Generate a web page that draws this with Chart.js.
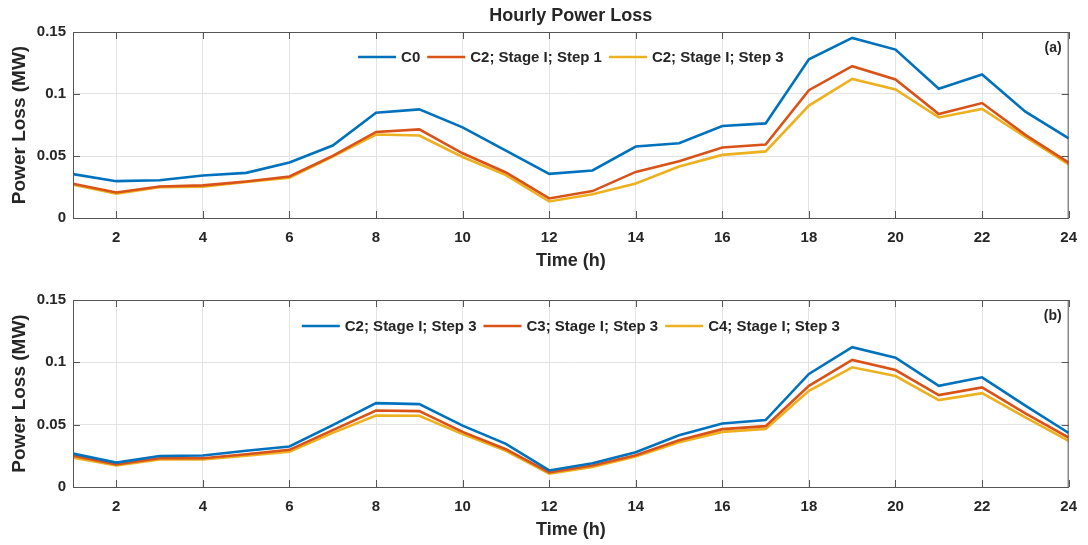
<!DOCTYPE html>
<html>
<head>
<meta charset="utf-8">
<script src="https://cdn.jsdelivr.net/npm/chart.js@4.4.1/dist/chart.umd.min.js"></script>
<style>
    html, body { margin: 0; padding: 0; background: #fff; }
    .wrap { position: relative; width: 1088px; }
    #topChart { display: block; width: 1088px; height: 272px; }
    #bottomChart { display: block; width: 1088px; height: 273px; }
</style>
</head>
<body>
<div class="wrap">
    <canvas id="topChart" width="1088" height="272"></canvas>
    <canvas id="bottomChart" width="1088" height="273"></canvas>
</div>
<script>
const hours = [1, 2, 3, 4, 5, 6, 7, 8, 9, 10, 11, 12, 13, 14, 15, 16, 17, 18, 19, 20, 21, 22, 23, 24];
const xTickValues = [2, 4, 6, 8, 10, 12, 14, 16, 18, 20, 22, 24];
const yTickValues = [0, 0.05, 0.1, 0.15];

// panel (a)
const c0 = [0.0354, 0.0297, 0.0305, 0.0343, 0.0364, 0.0447, 0.0584, 0.0849, 0.0876, 0.0731, 0.0544, 0.0356,
    0.0383, 0.0576, 0.0603, 0.0742, 0.0763, 0.1280, 0.1452, 0.1358, 0.1042, 0.1157, 0.0857, 0.0643];
const c2Step1 = [0.0276, 0.0206, 0.0254, 0.0263, 0.0295, 0.0335, 0.0501, 0.0694, 0.0715, 0.0522, 0.0367, 0.0158,
    0.0217, 0.0372, 0.0458, 0.0568, 0.0592, 0.1031, 0.1224, 0.1117, 0.0838, 0.0927, 0.0670, 0.0447];
const c2Step3 = [0.0268, 0.0196, 0.0249, 0.0253, 0.0291, 0.0325, 0.0496, 0.0673, 0.0665, 0.0492, 0.0346, 0.0133,
    0.0191, 0.0279, 0.0415, 0.0509, 0.0537, 0.0907, 0.1122, 0.1037, 0.0811, 0.0880, 0.0653, 0.0433];

// panel (b)
const c3Step3 = [0.0252, 0.0182, 0.0231, 0.0231, 0.0263, 0.0298, 0.0456, 0.0614, 0.0609, 0.0442, 0.0303, 0.0118,
    0.0172, 0.0255, 0.0375, 0.0464, 0.0488, 0.0812, 0.1019, 0.0938, 0.0737, 0.0799, 0.0590, 0.0397];
const c4Step3 = [0.0236, 0.0172, 0.0220, 0.0220, 0.0252, 0.0282, 0.0434, 0.0574, 0.0571, 0.0424, 0.0290, 0.0107,
    0.0161, 0.0244, 0.0359, 0.0442, 0.0466, 0.0772, 0.0960, 0.0890, 0.0697, 0.0753, 0.0558, 0.0370];

const BLUE = '#0072BD';
const ORANGE = '#D95319';
const YELLOW = '#EDB120';
const FONT = "'Liberation Sans', Arial, sans-serif";
const TEXT = '#262626';

function series(label, values, color) {
    return {
        label,
        data: hours.map((h, i) => ({ x: h, y: values[i] })),
        borderColor: color,
        backgroundColor: color,
        borderWidth: 2.6,
        pointRadius: 0,
        tension: 0
    };
}

// matlab-ish axes box: frame, inner ticks, title, horizontal legend inside, panel tag
const framePlugin = {
    id: 'frame',
    afterDatasetsDraw(chart, args, opts) {
        const { ctx, chartArea: a, scales } = chart;
        const midX = (a.left + a.right) / 2;
        ctx.save();

        ctx.strokeStyle = '#555';
        ctx.lineWidth = 1;
        ctx.strokeRect(a.left + 0.5, a.top + 0.5, a.right - a.left - 1, a.bottom - a.top);
        const t = 7;
        ctx.beginPath();
        xTickValues.forEach(v => {
            const x = Math.round(scales.x.getPixelForValue(v)) + 0.5;
            ctx.moveTo(x, a.bottom); ctx.lineTo(x, a.bottom - t);
            ctx.moveTo(x, a.top); ctx.lineTo(x, a.top + t);
        });
        yTickValues.forEach(v => {
            const y = Math.round(scales.y.getPixelForValue(v)) + 0.5;
            ctx.moveTo(a.left, y); ctx.lineTo(a.left + t, y);
            ctx.moveTo(a.right, y); ctx.lineTo(a.right - t, y);
        });
        ctx.stroke();

        ctx.fillStyle = TEXT;
        ctx.textBaseline = 'middle';

        if (opts.title) {
            ctx.font = `bold 18px ${FONT}`;
            ctx.textAlign = 'center';
            ctx.fillText(opts.title, midX, a.top - 16);
        }

        // legend, one row, centred on the plot
        const lineLen = 38, gapText = 5, gapItem = 7;
        ctx.font = `bold 15px ${FONT}`;
        const items = chart.data.datasets.map(ds => ({
            label: ds.label,
            color: ds.borderColor,
            w: ctx.measureText(ds.label).width
        }));
        const total = items.reduce((s, it) => s + lineLen + gapText + it.w, 0) + gapItem * (items.length - 1);
        let x = midX - total / 2;
        const ly = a.top + opts.legendOffset;
        ctx.textAlign = 'left';
        items.forEach(it => {
            ctx.strokeStyle = it.color;
            ctx.lineWidth = 2.6;
            ctx.beginPath();
            ctx.moveTo(x, ly);
            ctx.lineTo(x + lineLen, ly);
            ctx.stroke();
            x += lineLen + gapText;
            ctx.fillText(it.label, x, ly + 1);
            x += it.w + gapItem;
        });

        ctx.font = `bold 14px ${FONT}`;
        ctx.textAlign = 'right';
        ctx.fillText(opts.tag, a.right - 7, a.top + 16);
        ctx.restore();
    }
};

function makeOptions(frame, topPad, xHeight, xTitlePad) {
    return {
        responsive: false,
        animation: false,
        layout: { padding: { left: 0, right: 16, top: topPad, bottom: 0 } },
        plugins: {
            legend: { display: false },
            tooltip: { enabled: false },
            frame
        },
        scales: {
            x: {
                type: 'linear',
                min: 1,
                max: 24,
                afterBuildTicks: scale => { scale.ticks = xTickValues.map(v => ({ value: v })); },
                afterFit: scale => { scale.height = xHeight; },
                grid: { color: '#e3e3e3', drawTicks: false },
                border: { display: false },
                ticks: {
                    color: TEXT,
                    padding: 11,
                    font: { family: FONT, size: 15, weight: 'bold' },
                    maxRotation: 0,
                    callback: v => String(v)
                },
                title: {
                    display: true,
                    text: 'Time (h)',
                    color: TEXT,
                    font: { family: FONT, size: 18, weight: 'bold' },
                    padding: { top: 0, bottom: xTitlePad }
                }
            },
            y: {
                min: 0,
                max: 0.15,
                afterBuildTicks: scale => { scale.ticks = yTickValues.map(v => ({ value: v })); },
                afterFit: scale => { scale.width = 73; },
                grid: { color: '#e3e3e3', drawTicks: false },
                border: { display: false },
                ticks: {
                    color: TEXT,
                    padding: 7,
                    font: { family: FONT, size: 15, weight: 'bold' },
                    callback: v => String(+v.toFixed(2))
                },
                title: {
                    display: true,
                    text: 'Power Loss (MW)',
                    color: TEXT,
                    font: { family: FONT, size: 19, weight: 'bold' },
                    padding: { top: 8, bottom: 0 }
                }
            }
        }
    };
}

new Chart(document.getElementById('topChart'), {
    type: 'line',
    data: {
        datasets: [
            series('C0', c0, BLUE),
            series('C2; Stage I; Step 1', c2Step1, ORANGE),
            series('C2; Stage I; Step 3', c2Step3, YELLOW)
        ]
    },
    options: makeOptions({ tag: '(a)', title: 'Hourly Power Loss', legendOffset: 25 }, 32, 54, 0),
    plugins: [framePlugin]
});

new Chart(document.getElementById('bottomChart'), {
    type: 'line',
    data: {
        datasets: [
            series('C2; Stage I; Step 3', c2Step3, BLUE),
            series('C3; Stage I; Step 3', c3Step3, ORANGE),
            series('C4; Stage I; Step 3', c4Step3, YELLOW)
        ]
    },
    options: makeOptions({ tag: '(b)', title: '', legendOffset: 26 }, 28, 58, 4),
    plugins: [framePlugin]
});
</script>
</body>
</html>
